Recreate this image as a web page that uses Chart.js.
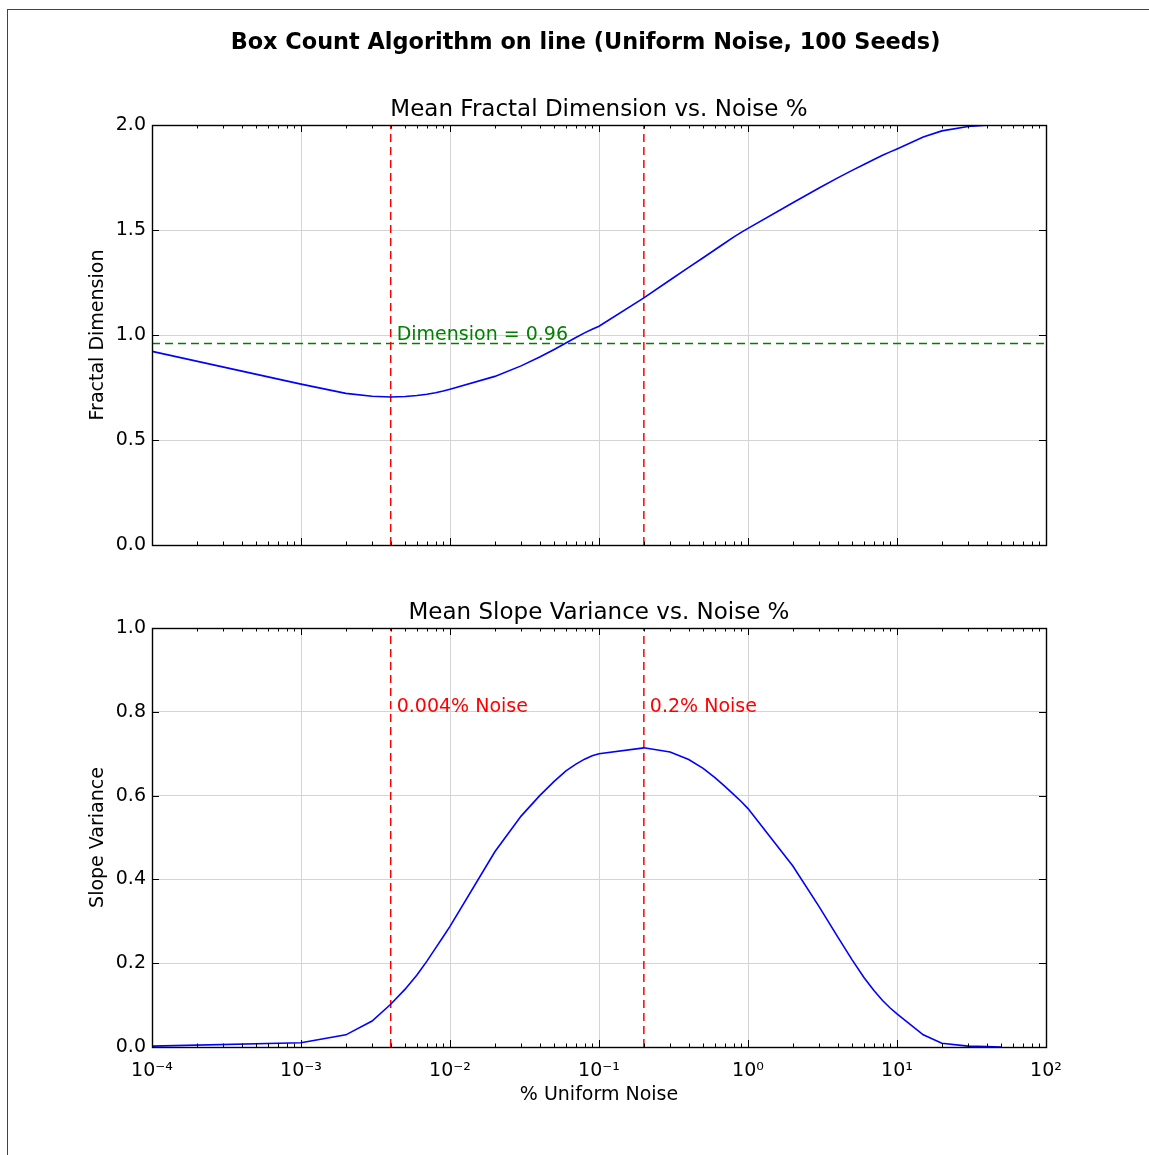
<!DOCTYPE html>
<html>
<head>
<meta charset="utf-8">
<script src="https://cdn.jsdelivr.net/npm/chart.js@4.4.0/dist/chart.umd.min.js"></script>
<style>
  html, body { margin: 0; padding: 0; background: #fff; }
  #wrap { position: relative; width: 1149px; height: 1155px; overflow: hidden; background: #fff; }
  #frame { position: absolute; left: 7px; top: 9px; width: 1300px; height: 1300px;
           border-left: 1px solid #444; border-top: 1px solid #444; }
  canvas { position: absolute; left: 0; }
  #c1 { top: 0; }
  #c2 { top: 580px; }
</style>
</head>
<body>
<div id="wrap">
  <div id="frame"></div>
  <canvas id="c1" width="1149" height="580"></canvas>
  <canvas id="c2" width="1149" height="575"></canvas>
</div>
<script>
// ---------------- data ----------------
const noisePct = [0.0001, 0.001, 0.002, 0.003, 0.004, 0.005, 0.006, 0.007, 0.008, 0.009,
  0.01, 0.02, 0.03, 0.04, 0.05, 0.06, 0.07, 0.08, 0.09,
  0.1, 0.2, 0.3, 0.4, 0.5, 0.6, 0.7, 0.8, 0.9,
  1, 2, 3, 4, 5, 6, 7, 8, 9,
  10, 15, 20, 30, 40, 50];
const meanDimension = [0.922, 0.766, 0.722, 0.708, 0.705, 0.707, 0.712, 0.718, 0.725, 0.733,
  0.742, 0.803, 0.853, 0.895, 0.931, 0.962, 0.988, 1.010, 1.027,
  1.042, 1.177, 1.262, 1.322, 1.368, 1.406, 1.438, 1.466, 1.489,
  1.508, 1.630, 1.700, 1.748, 1.784, 1.812, 1.836, 1.856, 1.872,
  1.886, 1.943, 1.972, 1.993, 1.999, 2.000];
const slopeVariance = [0.002, 0.010, 0.029, 0.062, 0.102, 0.138, 0.172, 0.205, 0.236, 0.263,
  0.288, 0.466, 0.551, 0.600, 0.634, 0.659, 0.675, 0.687, 0.695,
  0.700, 0.714, 0.704, 0.686, 0.665, 0.643, 0.622, 0.603, 0.586,
  0.569, 0.432, 0.335, 0.263, 0.208, 0.166, 0.135, 0.111, 0.093,
  0.079, 0.029, 0.009, 0.002, 0.001, 0.000];
const xTickValues = [1e-4, 1e-3, 1e-2, 1e-1, 1, 10, 100];
const xTickLabels = ['10\u207B\u2074', '10\u207B\u00B3', '10\u207B\u00B2', '10\u207B\u00B9', '10\u2070', '10\u00B9', '10\u00B2'];
const dimTicks = [0, 0.5, 1.0, 1.5, 2.0];
const varTicks = [0, 0.2, 0.4, 0.6, 0.8, 1.0];
const markerNoise = [0.004, 0.2];
const markerLabels = ['0.004% Noise', '0.2% Noise'];
const dimensionLevel = 0.96;
const dimensionLabel = 'Dimension = 0.96';
const suptitle = 'Box Count Algorithm on line (Uniform Noise, 100 Seeds)';
const topTitle = 'Mean Fractal Dimension vs. Noise %';
const bottomTitle = 'Mean Slope Variance vs. Noise %';
const topYLabel = 'Fractal Dimension';
const bottomYLabel = 'Slope Variance';
const xLabel = '% Uniform Noise';

// ---------------- style ----------------
const FONT = 'DejaVu Sans';
const FS = 19;
Chart.defaults.font.family = FONT;
Chart.defaults.font.size = FS;
Chart.defaults.color = '#000';
const GRID = '#d4d4d4';

function decor(name, opts) {
  return {
    id: name,
    afterDraw(chart) {
      const { ctx, chartArea: a, scales: { x, y } } = chart;
      ctx.save();
      ctx.strokeStyle = '#000';
      ctx.lineWidth = 1;
      // inward minor/major ticks on x (top & bottom)
      for (let e = -4; e < 2; e++) {
        for (let k = 2; k <= 9; k++) {
          const px = Math.round(x.getPixelForValue(k * Math.pow(10, e))) + 0.5;
          ctx.beginPath();
          ctx.moveTo(px, a.bottom); ctx.lineTo(px, a.bottom - 3.5);
          ctx.moveTo(px, a.top); ctx.lineTo(px, a.top + 3.5);
          ctx.stroke();
        }
      }
      xTickValues.forEach(v => {
        const px = Math.round(x.getPixelForValue(v)) + 0.5;
        ctx.beginPath();
        ctx.moveTo(px, a.bottom); ctx.lineTo(px, a.bottom - 7);
        ctx.moveTo(px, a.top); ctx.lineTo(px, a.top + 7);
        ctx.stroke();
      });
      opts.yTicks.forEach(v => {
        const py = Math.round(y.getPixelForValue(v)) + 0.5;
        ctx.beginPath();
        ctx.moveTo(a.left, py); ctx.lineTo(a.left + 7, py);
        ctx.moveTo(a.right, py); ctx.lineTo(a.right - 7, py);
        ctx.stroke();
      });
      // frame
      ctx.lineWidth = 1.4;
      ctx.strokeRect(Math.round(a.left) + 0.5, Math.round(a.top) + 0.5,
                     Math.round(a.width), Math.round(a.height));
      // titles
      ctx.fillStyle = '#000';
      ctx.textAlign = 'center';
      ctx.textBaseline = 'middle';
      if (opts.suptitle) {
        ctx.font = 'bold 22.4px ' + FONT;
        ctx.fillText(opts.suptitle, 585.5, 43);
      }
      ctx.font = '23px ' + FONT;
      ctx.fillText(opts.title, (a.left + a.right) / 2, a.top - 15);
      // annotations
      ctx.textAlign = 'left';
      ctx.textBaseline = 'alphabetic';
      ctx.font = FS + 'px ' + FONT;
      if (opts.dimLabel) {
        ctx.fillStyle = '#008000';
        ctx.fillText(opts.dimLabel, x.getPixelForValue(markerNoise[0]) + 6, y.getPixelForValue(0.975));
      }
      if (opts.markerLabels) {
        ctx.fillStyle = '#ff0000';
        markerNoise.forEach((m, i) => {
          ctx.fillText(markerLabels[i], x.getPixelForValue(m) + 6, y.getPixelForValue(0.8));
        });
      }
      ctx.restore();
    }
  };
}

function makeChart(canvas, cfg) {
  const datasets = [
    {
      data: noisePct.map((v, i) => ({ x: v, y: cfg.values[i] })),
      borderColor: '#0000ff', borderWidth: 1.6, pointRadius: 0, tension: 0, fill: false
    }
  ];
  markerNoise.forEach(m => {
    datasets.push({
      data: [{ x: m, y: cfg.yMin }, { x: m, y: cfg.yMax }],
      borderColor: '#ff0000', borderWidth: 1.5, borderDash: [8, 5], pointRadius: 0, fill: false
    });
  });
  if (cfg.hline !== undefined) {
    datasets.push({
      data: [{ x: xTickValues[0], y: cfg.hline }, { x: xTickValues[xTickValues.length - 1], y: cfg.hline }],
      borderColor: '#008000', borderWidth: 1.5, borderDash: [8, 5], pointRadius: 0, fill: false
    });
  }
  return new Chart(canvas, {
    type: 'line',
    data: { datasets },
    options: {
      responsive: false,
      animation: false,
      events: [],
      layout: { padding: cfg.padding },
      plugins: { legend: { display: false }, title: { display: false }, tooltip: { enabled: false } },
      scales: {
        x: {
          type: 'logarithmic',
          min: xTickValues[0], max: xTickValues[xTickValues.length - 1],
          afterBuildTicks: s => { s.ticks = xTickValues.map(v => ({ value: v, major: true })); },
          afterFit: s => { s.height = cfg.xAxisHeight; },
          grid: { color: GRID, lineWidth: 1, drawTicks: false },
          border: { display: false },
          ticks: {
            display: cfg.showXTicks, padding: 13, autoSkip: false, maxRotation: 0,
            font: { size: FS },
            callback: (v, i) => xTickLabels[i]
          },
          title: {
            display: cfg.showXTicks, text: xLabel, padding: 0, font: { size: FS }
          }
        },
        y: {
          type: 'linear',
          min: cfg.yMin, max: cfg.yMax,
          afterBuildTicks: s => { s.ticks = cfg.yTicks.map(v => ({ value: v })); },
          afterFit: s => { s.width = 152 - cfg.padding.left; },
          grid: { color: GRID, lineWidth: 1, drawTicks: false },
          border: { display: false },
          ticks: { padding: 6, font: { size: FS }, callback: v => Number(v).toFixed(1) },
          title: { display: true, text: cfg.yLabel, padding: 0, font: { size: FS } }
        }
      }
    },
    plugins: [decor('decor' + canvas.id, cfg.decor)]
  });
}

makeChart(document.getElementById('c1'), {
  values: meanDimension, yMin: 0, yMax: 2, yTicks: dimTicks, hline: dimensionLevel,
  padding: { top: 125, left: 87, right: 103, bottom: 35 },
  xAxisHeight: 0, showXTicks: false, yLabel: topYLabel,
  decor: { suptitle: suptitle, title: topTitle, yTicks: dimTicks, dimLabel: dimensionLabel }
});

makeChart(document.getElementById('c2'), {
  values: slopeVariance, yMin: 0, yMax: 1, yTicks: varTicks,
  padding: { top: 48, left: 87, right: 103, bottom: 49 },
  xAxisHeight: 59, showXTicks: true, yLabel: bottomYLabel,
  decor: { title: bottomTitle, yTicks: varTicks, markerLabels: true }
});
</script>
</body>
</html>
